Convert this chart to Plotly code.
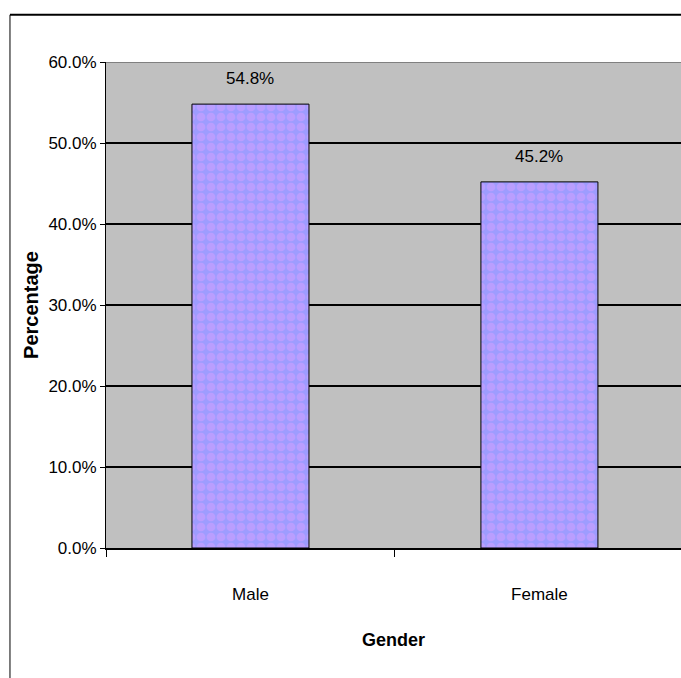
import plotly.graph_objects as go

# Gender split of respondents (percent)
categories = ["Male", "Female"]
values = [54.8, 45.2]
y_ticks = [0, 10, 20, 30, 40, 50, 60]
y_tick_labels = ["0.0%", "10.0%", "20.0%", "30.0%", "40.0%", "50.0%", "60.0%"]

narrow = "Liberation Sans Narrow, Arial Narrow, Liberation Sans, Arial, sans-serif"
bold = "Liberation Sans, Arial, sans-serif"

fig = go.Figure()
fig.add_trace(go.Bar(
    x=categories,
    y=values,
    width=0.405,
    marker=dict(
        color="#9999FF",
        line=dict(color="#000000", width=1),
        pattern=dict(shape=".", bgcolor="#9E9CFF", fgcolor="#D6A0FF",
                     size=10, solidity=0.6),
    ),
    hoverinfo="skip",
))

# value labels above each bar
for c, v in zip(categories, values):
    fig.add_annotation(x=c, y=v, text=f"{v:.1f}%", showarrow=False,
                       yanchor="bottom", yshift=14,
                       font=dict(family=narrow, size=17, color="#000000"))

# outer chart frame (top and left edges)
fig.add_shape(type="line", xref="paper", yref="paper",
              x0=-0.167, x1=1.05, y0=1.097, y1=1.097,
              line=dict(color="#000000", width=2))
fig.add_shape(type="line", xref="paper", yref="paper",
              x0=-0.167, x1=-0.167, y0=1.097, y1=-0.3,
              line=dict(color="#000000", width=1))
# plot-area top border
fig.add_shape(type="line", xref="paper", yref="y",
              x0=0, x1=1.0, y0=60, y1=60,
              line=dict(color="#808080", width=2), layer="above")

fig.update_layout(
    width=681, height=678,
    margin=dict(l=106, r=0, t=62, b=130),
    paper_bgcolor="#FFFFFF",
    plot_bgcolor="#C0C0C0",
    showlegend=False,
)
fig.update_xaxes(
    range=[-0.5, 1.49],
    showgrid=False,
    showline=True, linecolor="#000000", linewidth=2,
    ticks="outside", tickson="boundaries", ticklen=7, tickcolor="#000000",
    tickwidth=1, ticklabelstandoff=30,
    tickfont=dict(family=narrow, size=17, color="#000000"),
    title=dict(text="<b>Gender</b>", standoff=30,
               font=dict(family=bold, size=18, color="#000000")),
)
fig.update_yaxes(
    range=[0, 60],
    tickvals=y_ticks, ticktext=y_tick_labels,
    showgrid=True, gridcolor="#000000", gridwidth=2,
    zeroline=False,
    showline=True, linecolor="#000000", linewidth=1,
    ticks="outside", ticklen=5, tickcolor="#000000",
    tickfont=dict(family=narrow, size=17, color="#000000"),
    title=dict(text="<b>Percentage</b>", standoff=4,
               font=dict(family=bold, size=20, color="#000000")),
)

fig.write_html("out.html")
